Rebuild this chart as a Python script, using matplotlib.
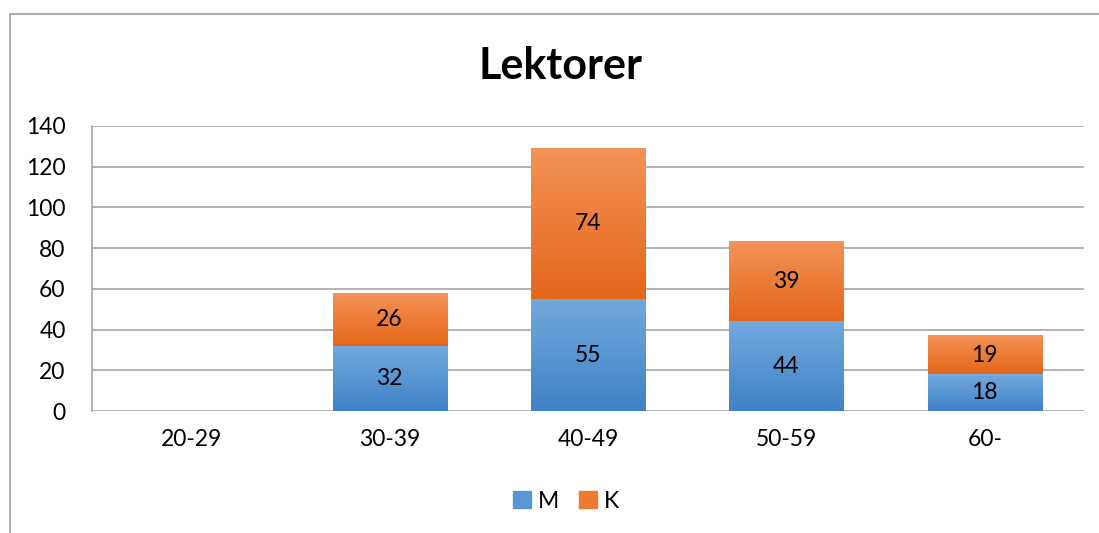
import matplotlib.pyplot as plt
import numpy as np
from matplotlib.colors import LinearSegmentedColormap
from matplotlib.patches import Rectangle

plt.rcParams['font.family'] = ['Lato', 'DejaVu Sans']

categories = ['20-29', '30-39', '40-49', '50-59', '60-']
m_vals = [0, 32, 55, 44, 18]
k_vals = [0, 26, 74, 39, 19]

blue_top, blue_bot = '#72a9de', '#3f82c6'
orange_top, orange_bot = '#f49258', '#e4671a'

fig = plt.figure(figsize=(10.99, 5.33), dpi=100)
ax = fig.add_axes([92 / 1099, 1 - 411 / 533, (1084 - 92) / 1099, (411 - 126) / 533])

# outer chart frame
fig.patches.append(Rectangle((10 / 1099, -0.05), 1.2, 1 - 14 / 533 + 0.05,
                             transform=fig.transFigure, fill=False,
                             edgecolor='#a0a0a0', linewidth=1.2))

x = np.arange(len(categories))
w = 0.575
bm = ax.bar(x, m_vals, w, color=blue_bot, label='M', zorder=2)
bk = ax.bar(x, k_vals, w, bottom=m_vals, color=orange_bot, label='K', zorder=2)


def grad(bars, top, bot):
    cmap = LinearSegmentedColormap.from_list('g', [bot, top])
    g = np.linspace(0, 1, 100).reshape(-1, 1)
    for b in bars:
        if b.get_height() <= 0:
            continue
        x0, y0 = b.get_x(), b.get_y()
        ax.imshow(g, cmap=cmap, origin='lower', aspect='auto', zorder=2.5,
                  extent=[x0, x0 + b.get_width(), y0, y0 + b.get_height()])


grad(bm, blue_top, blue_bot)
grad(bk, orange_top, orange_bot)

for i in range(len(categories)):
    if m_vals[i] > 0:
        ax.text(x[i], m_vals[i] / 2, str(m_vals[i]), ha='center', va='center',
                fontsize=16.5, zorder=4)
    if k_vals[i] > 0:
        ax.text(x[i], m_vals[i] + k_vals[i] / 2, str(k_vals[i]), ha='center',
                va='center', fontsize=16.5, zorder=4)

ax.set_xlim(-0.5, len(categories) - 0.5)
ax.set_ylim(0, 140)
ax.set_yticks(range(0, 141, 20))
ax.set_xticks(x)
ax.set_xticklabels(categories)
ax.tick_params(axis='both', length=0, labelsize=16.5)
ax.tick_params(axis='x', pad=13)
ax.tick_params(axis='y', pad=19)
for lbl in ax.get_yticklabels():
    lbl.set_horizontalalignment('right')
ax.grid(axis='y', color='#a6a6a6', linewidth=1.2, zorder=0)
ax.set_axisbelow(True)
for s in ['top', 'right', 'bottom']:
    ax.spines[s].set_visible(False)
ax.spines['left'].set_color('#a6a6a6')
ax.spines['left'].set_linewidth(1.2)

fig.text(561 / 1099, 1 - 66 / 533, 'Lektorer', ha='center', va='center',
         fontsize=31, fontweight='bold')

h = [Rectangle((0, 0), 1, 1, color='#5896d4'), Rectangle((0, 0), 1, 1, color='#ee7a30')]
fig.legend(h, ['M', 'K'], loc='center', bbox_to_anchor=(566 / 1099, 1 - 501 / 533),
           ncol=2, frameon=False, fontsize=16.5, handlelength=0.75, handleheight=0.75,
           handletextpad=0.3, columnspacing=0.9)

fig.savefig('out.png', dpi=100)
